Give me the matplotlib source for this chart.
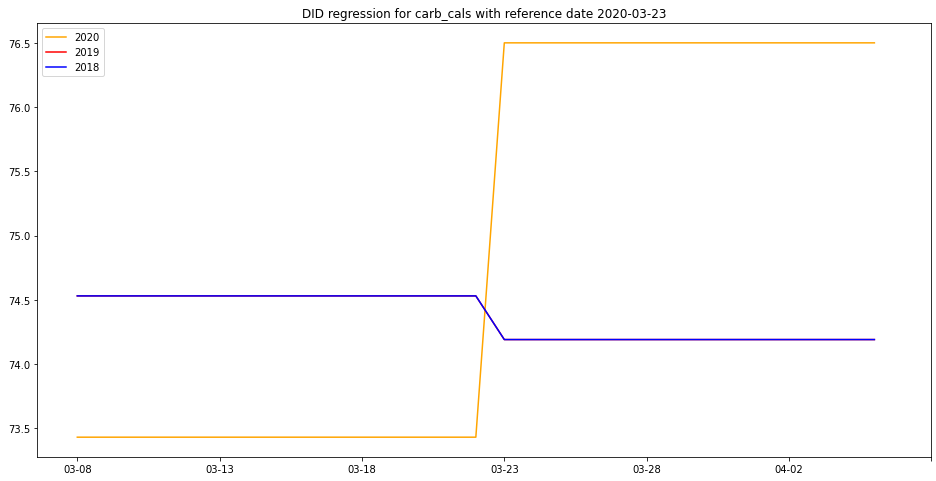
import matplotlib
matplotlib.use("Agg")
import matplotlib.pyplot as plt
import pandas as pd

dates = pd.date_range("2020-03-08", "2020-04-05").strftime("%m-%d").tolist()
n_pre = 15  # days before reference date 03-23
pre_2020, post_2020 = 73.43, 76.50
pre_2019, post_2019 = 74.53, 74.19
pre_2018, post_2018 = 74.53, 74.19

y2020 = [pre_2020] * n_pre + [post_2020] * (len(dates) - n_pre)
y2019 = [pre_2019] * n_pre + [post_2019] * (len(dates) - n_pre)
y2018 = [pre_2018] * n_pre + [post_2018] * (len(dates) - n_pre)

fig, ax = plt.subplots(figsize=(13, 6.694), dpi=72)
x = list(range(len(dates)))
ax.plot(x, y2020, color="orange", label="2020")
ax.plot(x, y2019, color="red", label="2019")
ax.plot(x, y2018, color="blue", label="2018")

ticks = list(range(0, len(dates) + 2, 5))
ax.set_xticks(ticks)
ax.set_xticklabels([dates[t] if t < len(dates) else "" for t in ticks])
ax.set_title("DID regression for carb_cals with reference date 2020-03-23")
ax.legend(loc="upper left")
fig.subplots_adjust(left=0.04, right=0.995, top=0.95, bottom=0.05)
fig.savefig("out.png", dpi=72)
